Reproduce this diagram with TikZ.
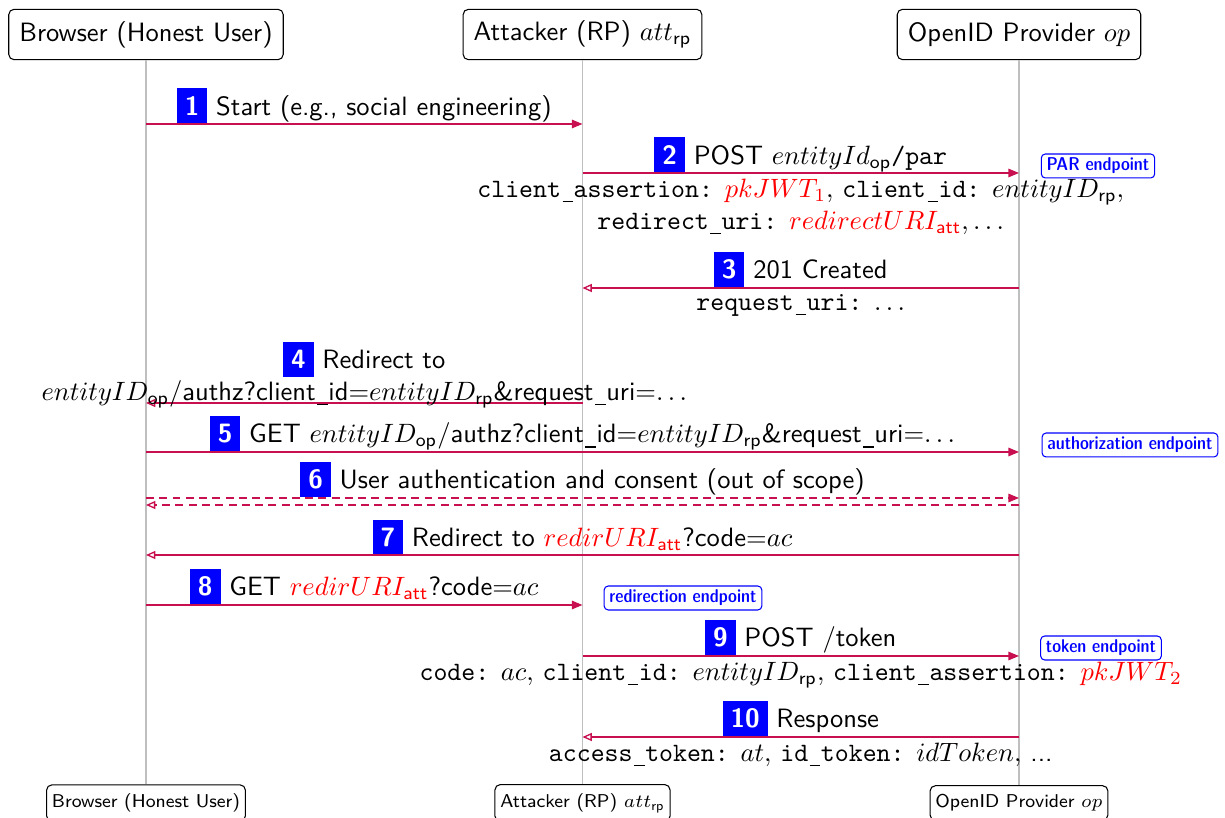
\documentclass[tikz,border=0pt]{standalone}
\usepackage{amsmath}
\usetikzlibrary{arrows.meta}
\renewcommand{\familydefault}{\sfdefault}
\definecolor{msgcol}{RGB}{200,16,80}
% numbered step badge in front of each message
\newcommand{\stepnum}[1]{{\setlength{\fboxsep}{3pt}\colorbox{blue}{\textcolor{white}{\bfseries #1}}}}
\newcommand{\hl}[1]{{\color{red}#1}}
% low-line as used in parameter names
\newcommand{\us}{\kern.06em\rule[-1.8pt]{.4em}{.45pt}\kern.02em}
\newcommand{\sub}[1]{\textsf{#1}}
\begin{document}
\begin{tikzpicture}[x=0.377pt,y=-0.377pt,
  actor/.style={draw, rounded corners=2pt, fill=white, inner xsep=4pt, minimum height=19pt},
  actorlow/.style={draw, rounded corners=2pt, fill=white, inner xsep=2pt, minimum height=12.5pt, font=\scriptsize},
  life/.style={draw=gray!50, line width=0.5pt},
  call/.style={draw=msgcol, line width=0.5pt, -{Triangle[length=4pt,width=3.2pt]}},
  reply/.style={draw=msgcol, line width=0.5pt, -{Triangle[open,length=3.5pt,width=3pt]}},
  head/.style={anchor=south, inner sep=0pt, align=center},
  body/.style={anchor=north, inner sep=2pt, align=center},
  endpoint/.style={draw=blue, text=blue, rounded corners=1.5pt, font=\scriptsize\fontseries{sbc}\selectfont, inner xsep=2pt, inner ysep=1.5pt, fill=white}
]
\useasboundingbox (0,0) rectangle (1225,818);

% participants
\node[actor] (bt) at (146,34.5) {Browser (Honest User)};
\node[actor] (at) at (582.5,34.5) {Attacker (RP) $att_{\sub{rp}}$};
\node[actor] (ot) at (1019,34.5) {OpenID Provider $op$};
\node[actorlow] (bb) at (146,803) {Browser (Honest User)};
\node[actorlow] (ab) at (582.5,803) {Attacker (RP) $att_{\sub{rp}}$};
\node[actorlow] (ob) at (1019,803) {OpenID Provider $op$};

% lifelines
\draw[life] (bt) -- (bb);
\draw[life] (at) -- (ab);
\draw[life] (ot) -- (ob);

% message anchors on the lifelines
\foreach \n/\y in {1/124,2/173,3/288,4/403,5/452,6/498,6r/505,7/555,8/605,9/656,10/737}{
  \coordinate (b\n) at (bt |- 0,\y);
  \coordinate (a\n) at (at |- 0,\y);
  \coordinate (o\n) at (ot |- 0,\y);
}

% 1
\draw[call] (b1) -- (a1) node[midway, head] {\stepnum{1} Start (e.g., social engineering)};

% 2
\draw[call] (a2) -- (o2)
  node[midway, head] {\stepnum{2} POST $entityId_{\sub{op}}$\texttt{/par}}
  node[midway, body] {\texttt{client\us assertion:} $\hl{pkJWT_1},$ \texttt{client\us id:} $entityID_{\sub{rp}},$\\
    \texttt{redirect\us uri:} $\hl{redirectURI_{\sub{att}}}, \ldots$};
\node[endpoint] (par) at (1098,166) {PAR endpoint};

% 3
\draw[reply] (o3) -- (a3)
  node[midway, head] {\stepnum{3} 201 Created}
  node[midway, body] {\texttt{request\us uri:} $\ldots$};

% 4
\draw[reply] (a4) -- (b4)
  node[midway, anchor=south, inner sep=0pt, align=center, yshift=-2.2pt]
  {\stepnum{4} Redirect to\\ $entityID_{\sub{op}}$/authz?client\us id=$entityID_{\sub{rp}}$\&request\us uri=$\ldots$};

% 5
\draw[call] (b5) -- (o5)
  node[midway, head] {\stepnum{5} GET $entityID_{\sub{op}}$/authz?client\us id=$entityID_{\sub{rp}}$\&request\us uri=$\ldots$};
\node[endpoint] (authz) at (1130,445) {authorization endpoint};

% 6
\draw[call, dash pattern=on 3pt off 2pt] (b6) -- (o6)
  node[midway, head] {\stepnum{6} User authentication and consent (out of scope)};
\draw[reply, dash pattern=on 3pt off 2pt] (o6r) -- (b6r);

% 7
\draw[reply] (o7) -- (b7)
  node[midway, head] {\stepnum{7} Redirect to $\hl{redirURI_{\sub{att}}}$?code=$ac$};

% 8
\draw[call] (b8) -- (a8)
  node[midway, head] {\stepnum{8} GET $\hl{redirURI_{\sub{att}}}$?code=$ac$};
\node[endpoint] (redir) at (683,598) {redirection endpoint};

% 9
\draw[call] (a9) -- (o9)
  node[midway, head] {\stepnum{9} POST /token}
  node[midway, body] {\texttt{code:} $ac,$ \texttt{client\us id:} $entityID_{\sub{rp}},$ \texttt{client\us assertion:} $\hl{pkJWT_2}$};
\node[endpoint] (tok) at (1101,648) {token endpoint};

% 10
\draw[reply] (o10) -- (a10)
  node[midway, head] {\stepnum{10} Response}
  node[midway, body] {\texttt{access\us token:} $at,$ \texttt{id\us token:} $idToken,$ ...};
\end{tikzpicture}
\end{document}
